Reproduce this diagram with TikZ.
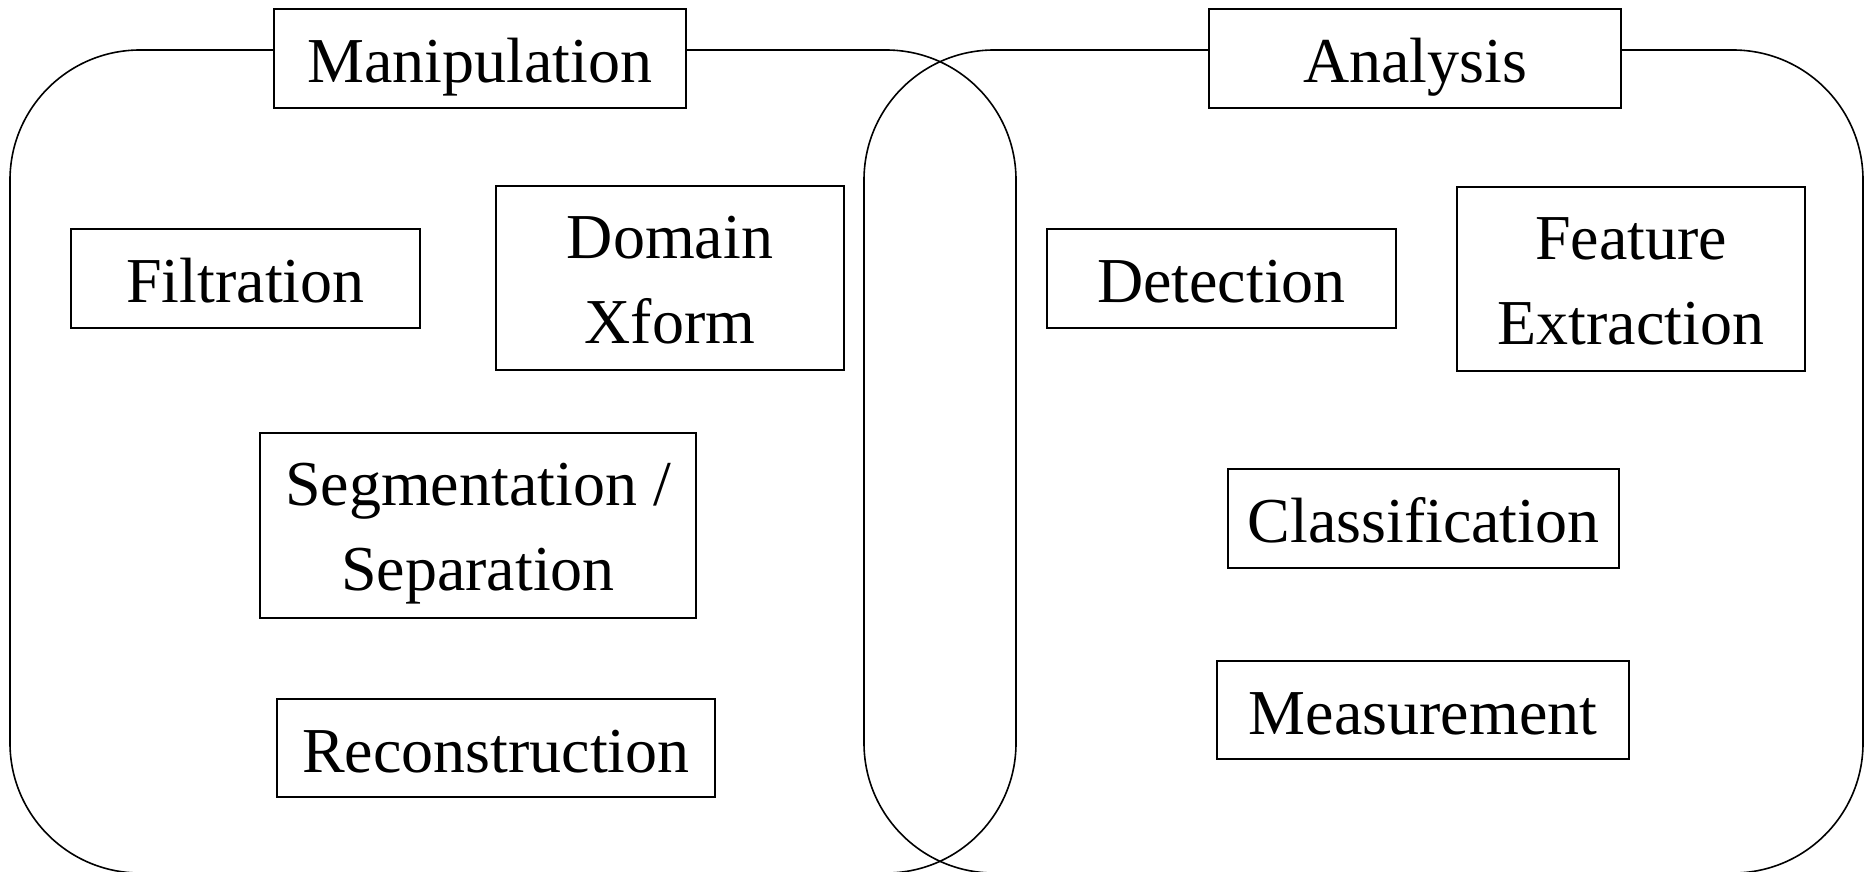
\documentclass[tikz,border=0pt]{standalone}
\usepackage{fontspec}
\setmainfont{Liberation Serif}
\newcommand\twoline[2]{\vbox{\halign{\hfil##\hfil\cr #1\cr #2\cr}}}
\begin{document}
\begin{tikzpicture}[x=0.5pt,y=-0.5pt,
  group/.style={draw=black,line width=0.8pt,rounded corners=65pt},
  boxbase/.style={draw=black,line width=1pt,inner sep=0pt,font=\fontsize{32}{42.5}\selectfont},
  title/.style={boxbase,fill=white,text height=24pt,text depth=0pt},
  stepbox/.style={boxbase,text height=24pt,text depth=0pt},
  twobox/.style={boxbase,text height=65pt,text depth=0pt}]
\useasboundingbox (0,0) rectangle (1864,872);
\begin{scope}
\clip (0,0) rectangle (1864,872);
\draw[group] (10,50) rectangle (1016,873);
\draw[group] (864,50) rectangle (1863,873);
\end{scope}
\node[title,minimum width=206pt,minimum height=49.5pt] (manip) at (480,58.5) {Manipulation};
\node[title,minimum width=206pt,minimum height=49.5pt] (anal) at (1415,58.5) {Analysis};
\node[stepbox,minimum width=174.5pt,minimum height=49.5pt] (filt) at (245.5,278.5) {Filtration};
\node[twobox,minimum width=174pt,minimum height=92pt] (dom) at (670,278) {\twoline{Domain}{Xform}};
\node[twobox,minimum width=218pt,minimum height=92.5pt] (seg) at (478,525.5) {\twoline{Segmentation /}{Separation}};
\node[stepbox,minimum width=219pt,minimum height=49pt] (rec) at (496,748) {Reconstruction};
\node[stepbox,minimum width=174.5pt,minimum height=49.5pt] (det) at (1221.5,278.5) {Detection};
\node[twobox,minimum width=174pt,minimum height=92pt] (feat) at (1631,279) {\twoline{Feature}{Extraction}};
\node[stepbox,minimum width=195.5pt,minimum height=49.5pt] (cls) at (1423.5,518.5) {Classification};
\node[stepbox,minimum width=206pt,minimum height=49pt] (meas) at (1423,710) {Measurement};
\end{tikzpicture}
\end{document}
